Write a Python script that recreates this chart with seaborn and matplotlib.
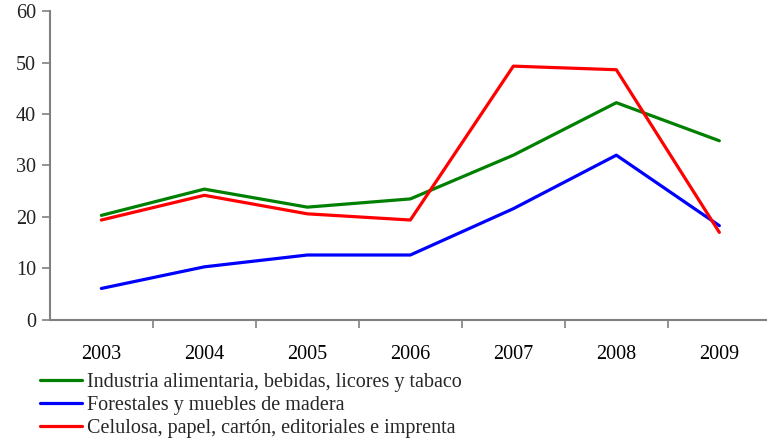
import pandas as pd
import numpy as np
import matplotlib.pyplot as plt
import seaborn as sns
from matplotlib.ticker import FixedLocator

years = ['2003', '2004', '2005', '2006', '2007', '2008', '2009']
alimentaria = [20.3, 25.4, 21.9, 23.5, 32.0, 42.2, 34.8]
forestales = [6.1, 10.3, 12.6, 12.6, 21.6, 32.0, 18.3]
celulosa = [19.4, 24.2, 20.6, 19.4, 49.3, 48.6, 17.0]

series_names = ['Industria alimentaria, bebidas, licores y tabaco',
                'Forestales y muebles de madera',
                'Celulosa, papel, cartón, editoriales e imprenta']

df = pd.DataFrame({
    'year': years * 3,
    'value': alimentaria + forestales + celulosa,
    'serie': [series_names[0]] * 7 + [series_names[1]] * 7 + [series_names[2]] * 7,
})

sns.set_style('white')
plt.rcParams['font.family'] = ['Liberation Serif', 'DejaVu Serif']

fig = plt.figure(figsize=(7.67, 4.43), dpi=100)
ax = fig.add_axes([0.065, 0.278, 0.94, 0.697])

colores = {series_names[0]: '#008000', series_names[1]: '#0000ff', series_names[2]: '#ff0000'}
sns.lineplot(data=df, x='year', y='value', hue='serie', palette=colores,
             linewidth=2.3, ax=ax, legend=False, sort=False)

ax.set_xlim(-0.5, 6.5)
ax.set_ylim(0, 60)
ax.set_yticks(range(0, 61, 10))
ax.set_xticks(range(7))
ax.set_xticklabels(years)
ax.xaxis.set_minor_locator(FixedLocator(np.arange(0.5, 6, 1)))
ax.tick_params(axis='x', which='major', length=0, pad=18, labelsize=14.5, colors='black')
ax.tick_params(axis='x', which='minor', length=6, width=1.2, color='#808080', bottom=True)
ax.tick_params(axis='y', length=6, width=1.2, color='#808080', labelsize=14.5, labelcolor='#222222', left=True, pad=4)
ax.set_xlabel('')
ax.set_ylabel('')
for s in ['top', 'right']:
    ax.spines[s].set_visible(False)
for s in ['left', 'bottom']:
    ax.spines[s].set_color('#808080')
    ax.spines[s].set_linewidth(1.5)

handles = [plt.Line2D([], [], color=colores[n], linewidth=2.3) for n in series_names]
fig.legend(handles, series_names, loc='upper left', bbox_to_anchor=(0.052, 1 - 373 / 443),
           frameon=False, fontsize=14.5, handlelength=2.1, handletextpad=0.25,
           labelspacing=0.2, borderaxespad=0, borderpad=0)

fig.savefig('out.png', dpi=100)
